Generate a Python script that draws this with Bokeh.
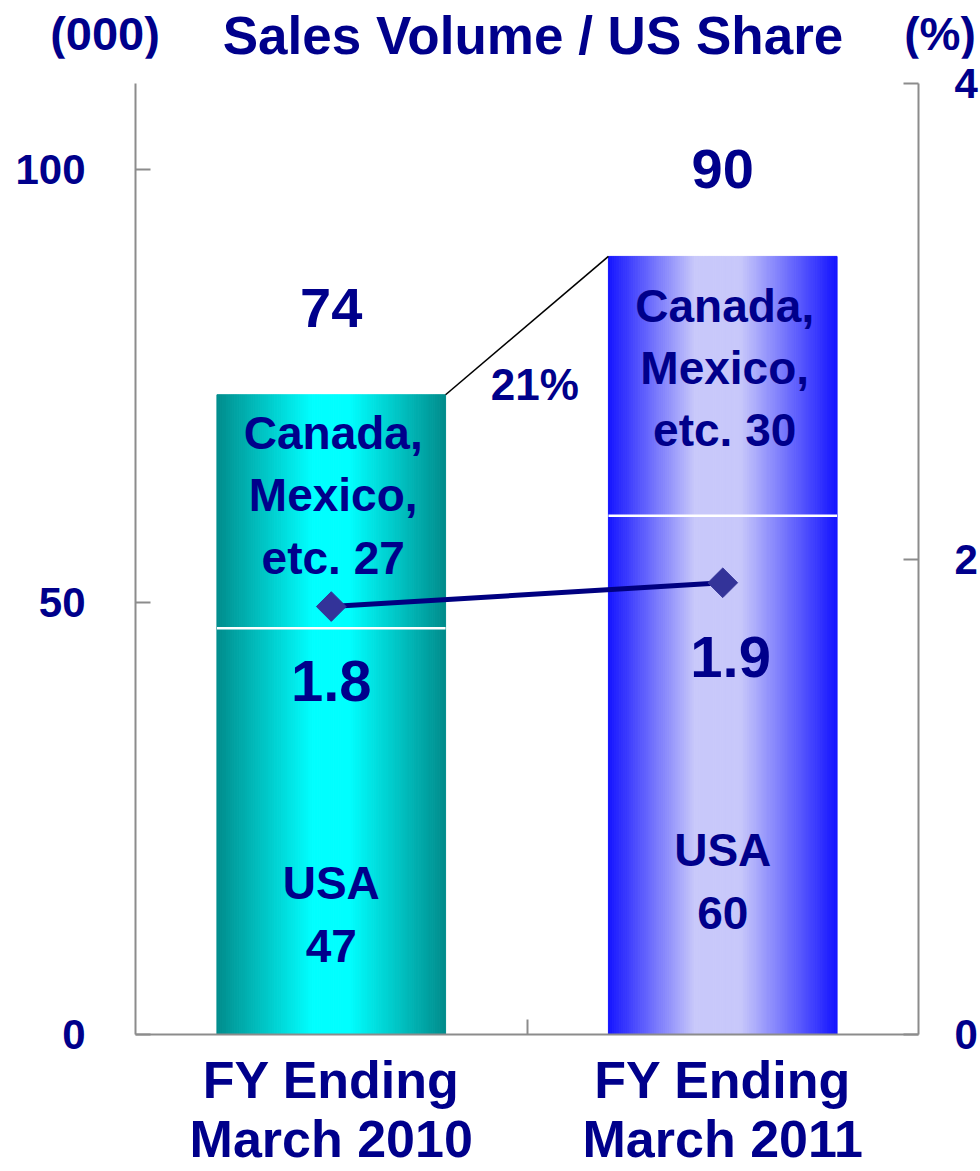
import math
from bokeh.plotting import figure
from bokeh.layouts import column
from bokeh.models import Range1d, LinearAxis, FixedTicker, ColumnDataSource, Div
from bokeh.core.properties import value
from bokeh.embed import file_html
from bokeh.resources import INLINE

# ---------------- data ----------------
categories = ["FY Ending\nMarch 2010", "FY Ending\nMarch 2011"]
usa = [47, 60]
others = [27, 30]
totals = [74, 90]
us_share = [1.8, 1.9]
growth_label = "21%"
left_ticks = [0, 50, 100]
right_ticks = [0, 2, 4]
title_text = "Sales Volume / US Share"
left_unit = "(000)"
right_unit = "(%)"

# ---------------- styles ----------------
NAVY = "#00008B"
FONT = "Liberation Sans"
AXIS_GRAY = "#8c8c8c"
BAR_W = 0.584
N_STRIPS = 120
HEADER_H = 58
gradients = [
    [(0.0, (0, 140, 140)), (0.42, (0, 255, 255)), (0.58, (0, 255, 255)), (1.0, (0, 140, 140))],
    [(0.0, (20, 20, 255)), (0.38, (200, 200, 250)), (0.58, (200, 200, 250)), (1.0, (20, 20, 255))],
]


def interp(stops, t):
    for (p0, c0), (p1, c1) in zip(stops[:-1], stops[1:]):
        if p0 <= t <= p1:
            f = (t - p0) / (p1 - p0) if p1 > p0 else 0
            return "#%02x%02x%02x" % tuple(int(round(a + (b - a) * f)) for a, b in zip(c0, c1))
    return "#%02x%02x%02x" % stops[-1][1]


text_common = dict(text_font=value(FONT), text_font_style="bold", text_color=NAVY,
                   text_align="center")

# ---------------- header (titles) ----------------
span_style = ("position:absolute;white-space:nowrap;line-height:0.8;font-family:'Liberation Sans',Arial,sans-serif;"
              "font-weight:bold;color:%s;" % NAVY)
header_html = (
    '<div style="position:relative;width:980px;height:%dpx;background:white;">' % HEADER_H
    + '<span style="%sleft:533px;top:15px;font-size:53px;transform:translateX(-50%%);">%s</span>'
    % (span_style, title_text)
    + '<span style="%sleft:105px;top:15px;font-size:47px;transform:translateX(-50%%);">%s</span>'
    % (span_style, left_unit)
    + '<span style="%sleft:940px;top:16px;font-size:46px;transform:translateX(-50%%);">%s</span>'
    % (span_style, right_unit)
    + '</div>'
)
header = Div(text=header_html, width=980, height=HEADER_H, margin=0)

# ---------------- main chart ----------------
p = figure(width=980, height=1171 - HEADER_H, x_range=Range1d(0, 2), y_range=Range1d(0, 110),
           output_backend="svg", toolbar_location=None,
           min_border_left=135, min_border_right=60, min_border_top=83 - HEADER_H,
           min_border_bottom=136, margin=0)
p.extra_y_ranges = {"share": Range1d(0, 4)}
p.xgrid.visible = False
p.ygrid.visible = False
p.outline_line_color = None
p.background_fill_color = "white"
p.border_fill_color = "white"

centers = [i + 0.5 for i in range(len(categories))]

# gradient bars built from thin strips
for i, c in enumerate(centers):
    left = c - BAR_W / 2
    lefts, rights, tops, colors = [], [], [], []
    for k in range(N_STRIPS):
        lefts.append(left + BAR_W * k / N_STRIPS)
        rights.append(left + BAR_W * (k + 1) / N_STRIPS)
        tops.append(totals[i])
        colors.append(interp(gradients[i], (k + 0.5) / N_STRIPS))
    src = ColumnDataSource(dict(left=lefts, right=rights, top=tops, bottom=[0] * N_STRIPS, color=colors))
    p.quad(left="left", right="right", top="top", bottom="bottom", source=src,
           fill_color="color", line_color="color", line_width=1)

# white divider between segments
p.segment(x0=[c - BAR_W / 2 for c in centers], x1=[c + BAR_W / 2 for c in centers],
          y0=usa, y1=usa, line_color="white", line_width=2.5)

# connector line between bar tops
p.segment(x0=[centers[0] + BAR_W / 2], y0=[totals[0]], x1=[centers[1] - BAR_W / 2], y1=[totals[1]],
          line_color="black", line_width=1.6)

# US share line
p.line(x=centers, y=us_share, y_range_name="share", line_color="#000080", line_width=5)
p.scatter(x=centers, y=us_share, y_range_name="share", marker="square", angle=math.pi / 4,
          size=21, fill_color="#333399", line_color="#333399")

# totals above bars
p.text(x=centers, y=totals, text=[str(t) for t in totals], y_offset=-87,
       text_font_size="56px", text_baseline="middle", **text_common)

# Canada, Mexico, etc.
p.text(x=[c + 0.005 for c in centers], y=[u + o * 0.57 for u, o in zip(usa, others)],
       text=["Canada,\nMexico,\netc. %d" % o for o in others],
       text_font_size="46px", text_line_height=1.2, text_baseline="middle", **text_common)

# USA labels
p.text(x=centers, y=[u * 0.295 for u in usa], text=["USA\n%d" % u for u in usa],
       text_font_size="46px", text_line_height=1.2, text_baseline="middle", **text_common)

# share labels
p.text(x=[c + 0.02 * i for i, c in enumerate(centers)], y=us_share, y_range_name="share",
       text=["%.1f" % s for s in us_share], y_offset=74, text_font_size="58px",
       text_baseline="middle", **text_common)

# growth label
p.text(x=[1.02], y=[totals[0]], text=[growth_label], y_offset=-10,
       text_font_size="44px", text_baseline="middle", **text_common)


# ---------------- axes ----------------
def style_axis(ax, size):
    ax.axis_line_color = AXIS_GRAY
    ax.axis_line_width = 2
    ax.major_tick_line_color = AXIS_GRAY
    ax.major_tick_line_width = 2
    ax.major_tick_in = 15
    ax.major_tick_out = 0
    ax.minor_tick_line_color = None
    ax.major_label_text_font = FONT
    ax.major_label_text_font_style = "bold"
    ax.major_label_text_color = NAVY
    ax.major_label_text_font_size = size


yax = p.yaxis[0]
yax.ticker = FixedTicker(ticks=left_ticks)
style_axis(yax, "42px")
yax.major_label_standoff = 50

rax = LinearAxis(y_range_name="share", ticker=FixedTicker(ticks=right_ticks))
style_axis(rax, "42px")
rax.major_label_standoff = 36
p.add_layout(rax, "right")

xax = p.xaxis[0]
xax.ticker = FixedTicker(ticks=centers, minor_ticks=[1.0])
xax.major_label_overrides = {c: lab for c, lab in zip(centers, categories)}
style_axis(xax, "52px")
xax.major_tick_line_color = None
xax.minor_tick_line_color = AXIS_GRAY
xax.minor_tick_line_width = 2
xax.minor_tick_in = 15
xax.minor_tick_out = 0
xax.major_label_standoff = 16
xax.major_label_text_line_height = 1.03

layout = column(header, p, spacing=0, margin=0)
open("out.html", "w").write(file_html(layout, INLINE))
